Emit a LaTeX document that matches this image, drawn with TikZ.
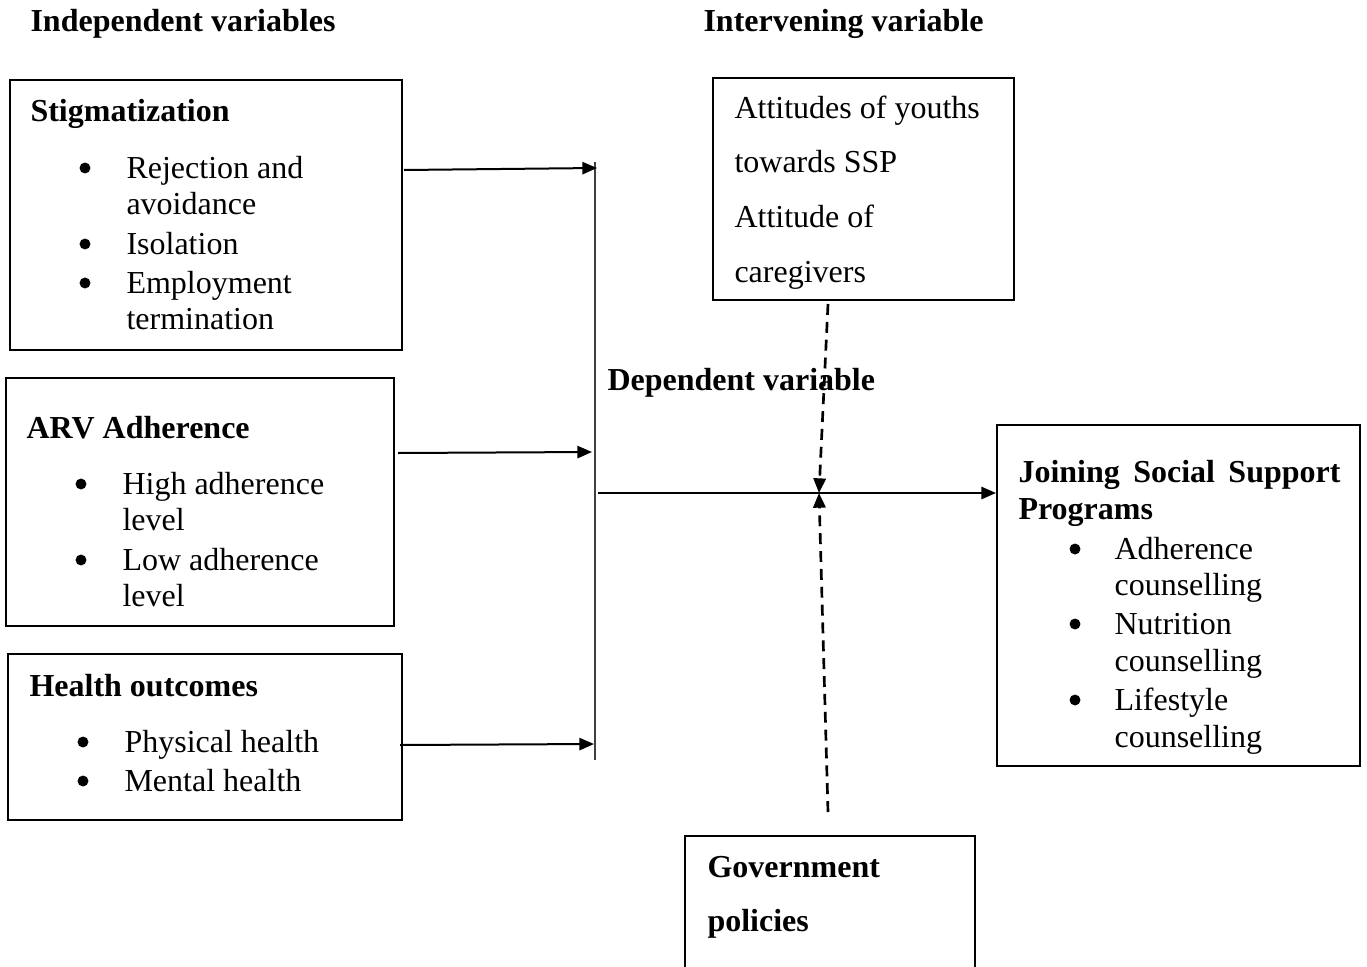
\documentclass[tikz,border=0pt]{standalone}
\usepackage{fontspec}
\setmainfont{Liberation Serif}
\usetikzlibrary{arrows.meta,fit}
\begin{document}
\begin{tikzpicture}[x=0.375pt,y=-0.375pt,
 box/.style={draw,line width=0.75pt,inner sep=0pt},
 txt/.style={anchor=base west,inner sep=0pt,font=\fontsize{12}{14}\selectfont},
 bld/.style={anchor=base west,inner sep=0pt,font=\fontsize{12}{14}\selectfont\bfseries},
 bul/.style={circle,fill=black,inner sep=0pt,minimum size=4.1pt},
 arr/.style={line width=0.75pt,-{Triangle[length=5.5pt,width=4.6pt]}},
 dsh/.style={line width=1pt,dash pattern=on 4.1pt off 2.6pt,-{Triangle[length=5.5pt,width=4.6pt]}}]
\useasboundingbox (0,0) rectangle (1367,967);

% headers
\node[bld] (h1) at (30,31) {Independent variables};
\node[bld] (h2) at (703,31) {Intervening variable};

% Stigmatization box
\node[box,fit={(10,80) (402,350)}] (stig) {};
\node[bld] (st) at (30,121) {Stigmatization};
\node[bul] (sb1) at (85,168) {};
\node[txt] (s1a) at (126,178) {Rejection and};
\node[txt] (s1b) at (126,214) {avoidance};
\node[bul] (sb2) at (85,244) {};
\node[txt] (s2) at (126,254) {Isolation};
\node[bul] (sb3) at (85,283) {};
\node[txt] (s3a) at (126,293) {Employment};
\node[txt] (s3b) at (126,329) {termination};

% ARV box
\node[box,fit={(6,378) (394,626)}] (arv) {};
\node[bld] (at) at (26,438) {ARV Adherence};
\node[bul] (ab1) at (81,484) {};
\node[txt] (a1a) at (122,494) {High adherence};
\node[txt] (a1b) at (122,530) {level};
\node[bul] (ab2) at (81,560) {};
\node[txt] (a2a) at (122,570) {Low adherence};
\node[txt] (a2b) at (122,606) {level};

% Health box
\node[box,fit={(8,654) (402,820)}] (hlth) {};
\node[bld] (ht) at (29,696) {Health outcomes};
\node[bul] (hb1) at (83,742) {};
\node[txt] (h1t) at (124,752) {Physical health};
\node[bul] (hb2) at (83,781) {};
\node[txt] (h2t) at (124,791) {Mental health};

% Intervening box
\node[box,fit={(713,78) (1014,300)}] (intv) {};
\node[txt] (i1) at (734,118) {Attitudes of youths};
\node[txt] (i2) at (734,172) {towards SSP};
\node[txt] (i3) at (734,227) {Attitude of};
\node[txt] (i4) at (734,282) {caregivers};

% Dependent variable label
\node[bld] (dv) at (607,390) {Dependent variable};

% Right box
\node[box,fit={(997,425) (1360,766)}] (join) {};
\node[bld] (j1) at (1018,482) {\makebox[120.75pt][s]{Joining Social Support}};
\node[bld] (j2) at (1018,519) {Programs};
\node[bul] (jb1) at (1075,549) {};
\node[txt] (j3a) at (1114,559) {Adherence};
\node[txt] (j3b) at (1114,595) {counselling};
\node[bul] (jb2) at (1075,624) {};
\node[txt] (j4a) at (1114,634) {Nutrition};
\node[txt] (j4b) at (1114,671) {counselling};
\node[bul] (jb3) at (1075,700) {};
\node[txt] (j5a) at (1114,710) {Lifestyle};
\node[txt] (j5b) at (1114,747) {counselling};

% Government box (extends past the bottom edge)
\node[box,fit={(685,836) (975,1000)}] (gov) {};
\node[bld] (g1) at (707,877) {Government};
\node[bld] (g2) at (707,931) {policies};

% connectors
\coordinate (vt) at (595,162);
\coordinate (vb) at (595,760);
\draw[line width=0.6pt,black!75] (vt) -- (vb);
\coordinate (s1s) at (404,170); \coordinate (s1e) at (597,168);
\coordinate (s2s) at (398,453); \coordinate (s2e) at (592,452);
\coordinate (s3s) at (400,745); \coordinate (s3e) at (594,744);
\draw[arr] (s1s) -- (s1e);
\draw[arr] (s2s) -- (s2e);
\draw[arr] (s3s) -- (s3e);
\coordinate (ms) at (598,493);
\draw[arr] (ms) -- (join.west |- ms);
\coordinate (xa) at (819,493);
\coordinate (da) at (828,304);
\coordinate (db) at (828,812);
\draw[dsh] (da) -- (xa);
\draw[dsh] (db) -- (xa);
\end{tikzpicture}
\end{document}
